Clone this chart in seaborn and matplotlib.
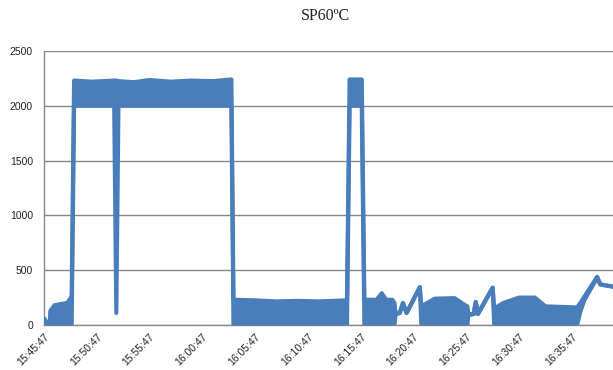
import matplotlib
matplotlib.use("Agg")
import matplotlib.pyplot as plt
import seaborn as sns
import numpy as np
import pandas as pd

# ---- data (minutes since 15:45:47, lower / upper envelope of the trace) ----
minutes = [0.0, 0.3, 0.55, 0.6, 1.0, 1.8, 2.2, 2.55, 2.62, 2.85,
           4.5, 6.65, 6.85, 7.05, 8.5, 10.0, 12.0, 14.0, 16.0, 17.75, 17.95,
           20.0, 22.0, 24.0, 26.0, 28.7, 28.95, 30.1, 30.35,
           31.5, 32.0, 32.4, 33.0, 33.2, 33.3, 33.7, 34.0, 34.35, 35.6, 35.75,
           37.0, 38.9, 39.9, 40.1, 40.2, 40.7, 40.9, 41.1, 42.5, 42.65,
           43.5, 45.0, 46.5, 47.5, 50.5, 50.8, 51.2, 52.4, 52.7, 53.9]
lower = [50, 0, 0, 0, 0, 0, 0, 0, 0, 2000,
         2000, 2000, 110, 2000, 2000, 2000, 2000, 2000, 2000, 2000, 0,
         0, 0, 0, 0, 0, 2000, 2000, 0,
         0, 0, 0, 0, 0, 100, 110, 200, 110, 345, 0,
         0, 0, 0, 0, 90, 100, 210, 100, 340, 0,
         0, 0, 0, 0, 0, 120, 230, 430, 370, 350]
upper = [60, 20, 20, 130, 180, 195, 200, 250, 250, 2230,
         2220, 2230, 2230, 2225, 2215, 2235, 2220, 2230, 2225, 2240, 230,
         225, 215, 220, 215, 225, 2240, 2240, 230,
         230, 290, 230, 230, 200, 100, 110, 200, 110, 345, 170,
         240, 245, 180, 170, 100, 100, 210, 100, 340, 150,
         200, 250, 250, 170, 160, 200, 260, 440, 370, 350]

tick_minutes = [0, 5, 10, 15, 20, 25, 30, 35, 40, 45, 50]
tick_labels = ["15:45:47", "15:50:47", "15:55:47", "16:00:47", "16:05:47",
               "16:10:47", "16:15:47", "16:20:47", "16:25:47", "16:30:47",
               "16:35:47"]
y_ticks = [0, 500, 1000, 1500, 2000, 2500]
title = "SP60ºC"

df = pd.DataFrame({"t": minutes, "lo": lower, "hi": upper})

sns.set_theme(style="white")
plt.rcParams["font.family"] = ["Liberation Sans", "DejaVu Sans"]

fig = plt.figure(figsize=(6.13, 3.70), dpi=100)
ax = fig.add_axes([44 / 613, 1 - 325 / 370, 1 - 44 / 613, (325 - 51) / 370])

color = "#4A7EBB"
ax.fill_between(df["t"], df["lo"], df["hi"], color=color, linewidth=0, zorder=3)
sns.lineplot(data=df, x="t", y="hi", sort=False, estimator=None, ax=ax,
             color=color, linewidth=3.0, zorder=4)
sns.lineplot(data=df, x="t", y="lo", sort=False, estimator=None, ax=ax,
             color=color, linewidth=3.0, zorder=4)

ax.set_xlim(0, 53.9)
ax.set_ylim(0, 2500)
ax.set_yticks(y_ticks)
ax.set_yticklabels([str(v) for v in y_ticks], fontsize=7.5, color="#222222")
ax.set_xticks(tick_minutes)
ax.set_xticklabels(tick_labels, rotation=45, ha="right", rotation_mode="anchor",
                   fontsize=7.5, color="#222222")
ax.tick_params(axis="y", length=0, pad=8)
ax.tick_params(axis="x", length=0, pad=5)
ax.set_xlabel("")
ax.set_ylabel("")

ax.grid(axis="y", color="#888888", linewidth=1.0, zorder=0)
ax.grid(axis="x", visible=False)
for side in ["top", "right"]:
    ax.spines[side].set_visible(False)
ax.spines["left"].set_color("#888888")
ax.spines["bottom"].set_color("#888888")
ax.spines["left"].set_linewidth(1.0)
ax.spines["bottom"].set_linewidth(1.0)

fig.text(325 / 613, 1 - 16 / 370, title, ha="center", va="center",
         fontsize=11.5, family=["Liberation Serif", "DejaVu Serif"], color="#222222")

fig.savefig("out.png", dpi=100)
